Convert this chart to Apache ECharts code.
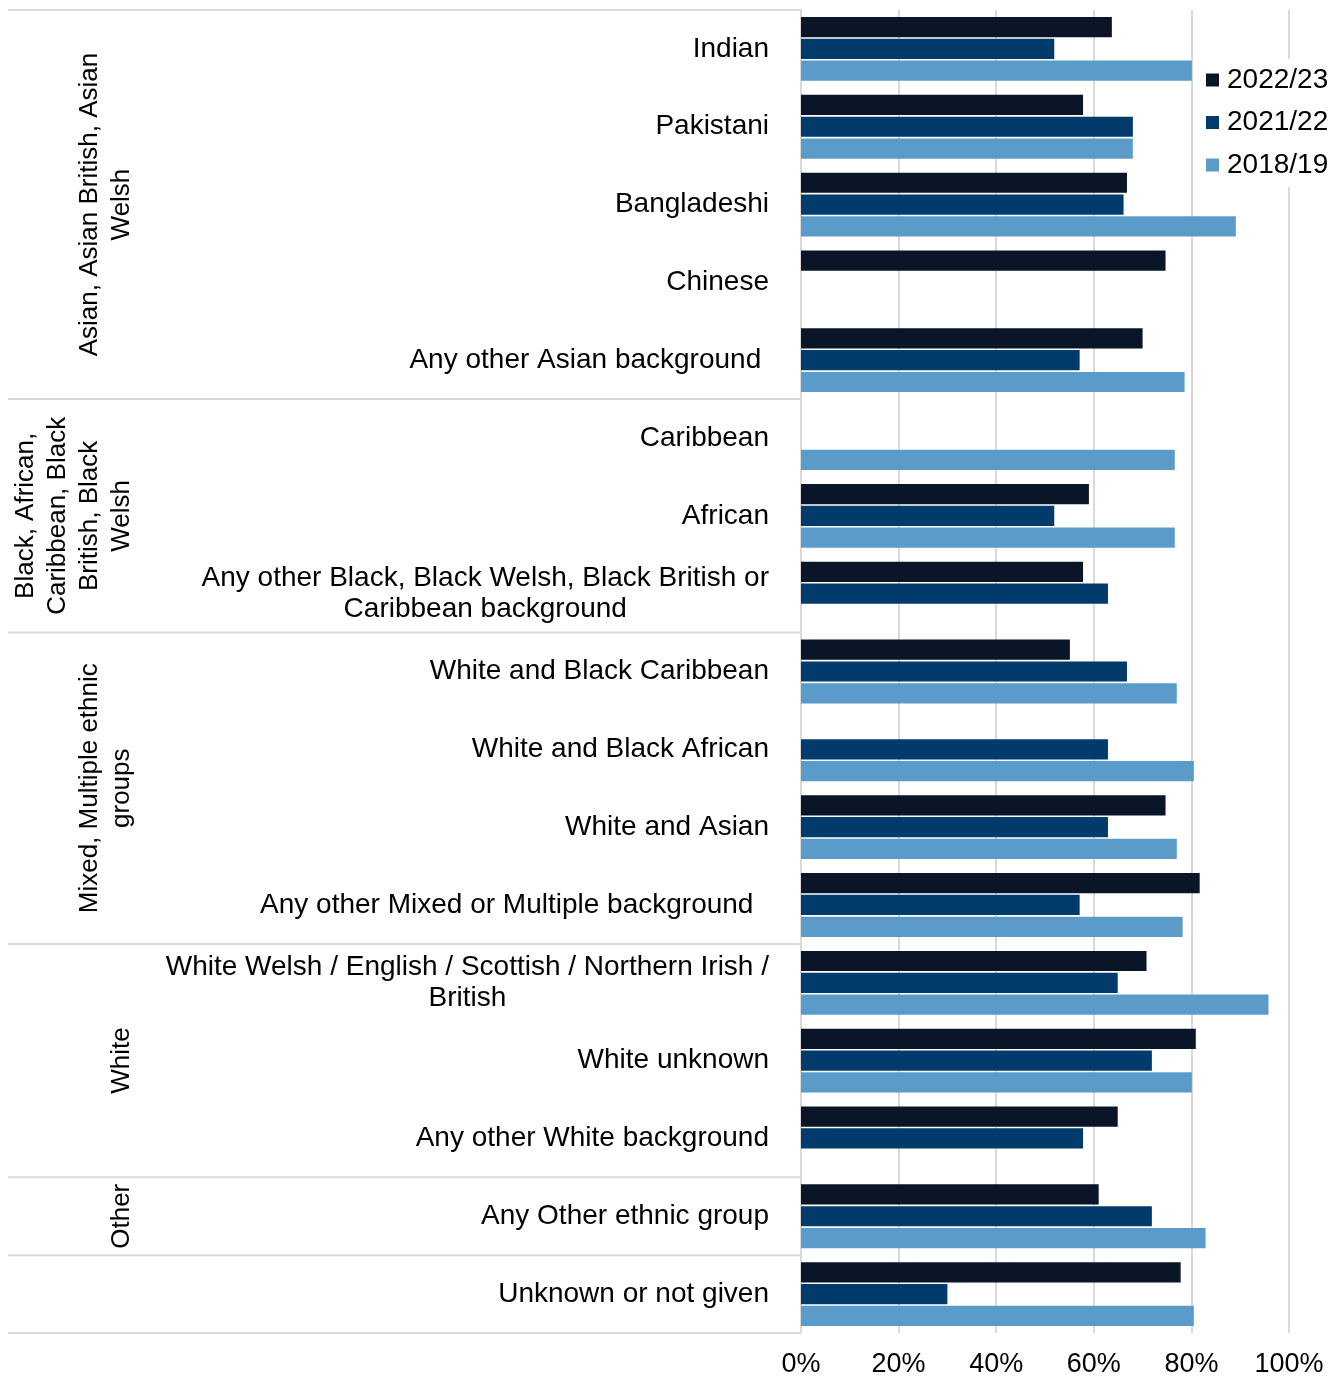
<!DOCTYPE html>
<html>
<head>
<meta charset="utf-8">
<title>Ethnic group comparison</title>
<script src="https://cdn.jsdelivr.net/npm/echarts@6/dist/echarts.min.js"></script>
<style>
  html, body { margin: 0; padding: 0; background: #ffffff; }
  #chart { width: 1341px; height: 1378px; }
</style>
</head>
<body>
<div id="chart"></div>
<script>
// Ethnic group rows, top to bottom
const categories = [
  'Indian',
  'Pakistani',
  'Bangladeshi',
  'Chinese',
  'Any other Asian background ',
  'Caribbean',
  'African',
  'Any other Black, Black Welsh, Black British or\nCaribbean background',
  'White and Black Caribbean',
  'White and Black African',
  'White and Asian',
  'Any other Mixed or Multiple background  ',
  'White Welsh / English / Scottish / Northern Irish /\nBritish',
  'White unknown',
  'Any other White background',
  'Any Other ethnic group',
  'Unknown or not given'
];

// Broad group headings and how many rows each covers
const groupNames = [
  'Asian, Asian British, Asian\nWelsh',
  'Black, African,\nCaribbean, Black\nBritish, Black\nWelsh',
  'Mixed, Multiple ethnic\ngroups',
  'White',
  'Other',
  ''
];
const groupSizes = [5, 3, 4, 3, 1, 1];

const seriesNames = ['2022/23', '2021/22', '2018/19'];

// Percentages per year (null = not shown)
const values2223 = [63.7, 57.8, 66.8, 74.7, 70.0, null, 59.0, 57.8, 55.1, null, 74.7, 81.7, 70.8, 80.9, 64.9, 61.0, 77.8];
const values2122 = [51.9, 68.0, 66.1, null, 57.1, null, 51.9, 62.9, 66.8, 62.9, 62.9, 57.1, 64.9, 71.9, 57.8, 71.9, 30.0];
const values1819 = [80.1, 68.0, 89.1, null, 78.6, 76.6, 76.6, null, 77.0, 80.5, 77.0, 78.2, 95.8, 80.1, null, 82.9, 80.5];

const xTicks = [0, 20, 40, 60, 80, 100];

const colors = ['#0a1628', '#003b6b', '#5b9bc9'];
const FONT = '"Liberation Sans", Arial, sans-serif';
const GRID_GREY = '#d9d9d9';

const chart = echarts.init(document.getElementById('chart'), null, { renderer: 'canvas' });

const seriesData = [values2223, values2122, values1819];

const option = {
  animation: false,
  backgroundColor: '#ffffff',
  textStyle: { fontFamily: FONT },
  grid: { left: 801, right: 52, top: 10, bottom: 45, containLabel: false },
  legend: {
    orient: 'vertical',
    left: 1193,
    top: 59,
    padding: [6, 8, 7, 13],
    backgroundColor: '#ffffff',
    itemWidth: 13,
    itemHeight: 13,
    itemGap: 12.5,
    icon: 'rect',
    data: seriesNames,
    textStyle: { fontFamily: FONT, fontSize: 28, color: '#000', lineHeight: 30, padding: [0, 0, 0, 3] }
  },
  xAxis: {
    type: 'value',
    min: xTicks[0],
    max: xTicks[xTicks.length - 1],
    interval: xTicks[1] - xTicks[0],
    axisLine: { show: false },
    axisTick: { show: false },
    splitLine: { show: true, lineStyle: { color: GRID_GREY, width: 2 } },
    axisLabel: {
      formatter: v => v + '%',
      fontFamily: FONT,
      fontSize: 27,
      color: '#000',
      margin: 18
    }
  },
  yAxis: {
    type: 'category',
    inverse: true,
    data: categories,
    axisLine: { show: true, lineStyle: { color: GRID_GREY, width: 2 } },
    axisTick: { show: false },
    splitLine: { show: false },
    axisLabel: {
      margin: 32,
      align: 'right',
      fontFamily: FONT,
      fontSize: 28,
      color: '#000',
      lineHeight: 31,
      formatter: v => v.split('\n').map(l => '{c|' + l + '}').join('\n'),
      rich: {
        c: { align: 'center', fontFamily: FONT, fontSize: 28, color: '#000', lineHeight: 31 }
      }
    }
  },
  series: seriesNames.map((name, i) => ({
    name: name,
    type: 'bar',
    data: seriesData[i],
    barCategoryGap: '18%',
    barGap: '8%',
    itemStyle: { color: colors[i] }
  }))
};

chart.setOption(option);

// Group separators and rotated group headings, placed from the category axis
function drawGroups() {
  const p0 = chart.convertToPixel({ yAxisIndex: 0 }, 0);
  const p1 = chart.convertToPixel({ yAxisIndex: 0 }, 1);
  const band = Math.abs(p1 - p0);
  const topEdge = p0 - band / 2;
  const axisX = chart.convertToPixel({ xAxisIndex: 0 }, 0);
  const elements = [];
  let start = 0;
  const boundary = idx => topEdge + idx * band;
  elements.push({
    type: 'line', silent: true,
    shape: { x1: 8, y1: boundary(0), x2: axisX, y2: boundary(0) },
    style: { stroke: GRID_GREY, lineWidth: 2 }
  });
  groupSizes.forEach((size, g) => {
    const end = start + size;
    elements.push({
      type: 'line', silent: true,
      shape: { x1: 8, y1: boundary(end), x2: axisX, y2: boundary(end) },
      style: { stroke: GRID_GREY, lineWidth: 2 }
    });
    if (groupNames[g]) {
      elements.push({
        type: 'text', silent: true,
        x: 138,
        y: (boundary(start) + boundary(end)) / 2,
        rotation: Math.PI / 2,
        style: {
          text: groupNames[g],
          align: 'center',
          verticalAlign: 'bottom',
          fontFamily: FONT,
          fontSize: 26,
          lineHeight: 32,
          fill: '#000'
        }
      });
    }
    start = end;
  });
  chart.setOption({ graphic: { elements: elements } });
}
drawGroups();
</script>
</body>
</html>
